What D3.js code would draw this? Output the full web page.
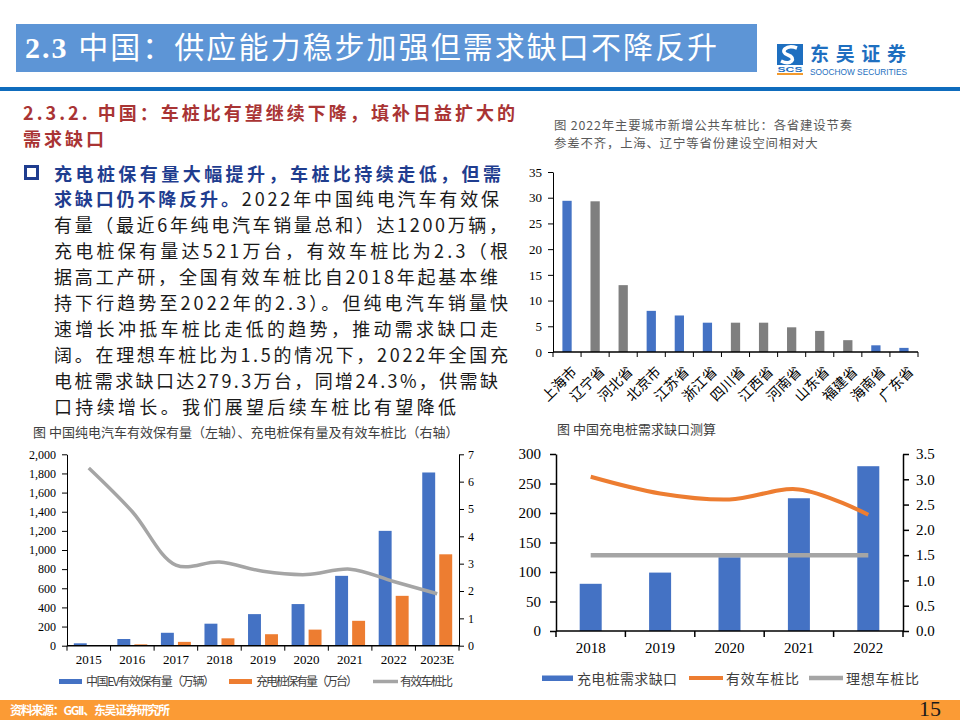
<!DOCTYPE html>
<html><head><meta charset="utf-8">
<script src="https://cdn.jsdelivr.net/npm/d3@7"></script>
<style>body{margin:0;background:#fff} svg{display:block}</style>
</head><body>
<svg id="c" width="960" height="720"></svg>
<script>
// ---------- DATA ----------
const provinces = ["上海市","辽宁省","河北省","北京市","江苏省","浙江省","四川省","江西省","河南省","山东省","福建省","海南省","广东省"];
const provinceRatio = [29.4,29.3,13.0,8.0,7.1,5.7,5.7,5.7,4.8,4.1,2.3,1.3,0.8];
const provinceBlue = [true,false,false,true,true,true,false,false,false,false,false,true,true];
const provinceTicks = [0,5,10,15,20,25,30,35];

const years1 = ["2015","2016","2017","2018","2019","2020","2021","2022","2023E"];
const evStock = [25,70,135,230,330,435,730,1200,1810];
const pileStock = [4,14,40,77,120,168,260,521,955];
const effRatio1 = [6.5,4.9,2.95,3.06,2.72,2.6,2.8,2.35,1.9];
const leftTicks1 = [0,200,400,600,800,1000,1200,1400,1600,1800,2000];
const rightTicks1 = [0,1,2,3,4,5,6,7];
const legend1 = ["中国EV有效保有量（万辆）","充电桩保有量（万台）","有效车桩比"];

const years2 = ["2018","2019","2020","2021","2022"];
const pileGap = [80,99,125,225,279.3];
const effRatio2 = [3.05,2.72,2.6,2.8,2.3];
const idealRatio2 = [1.5,1.5,1.5,1.5,1.5];
const leftTicks2 = [0,50,100,150,200,250,300];
const rightTicks2 = [0,0.5,1,1.5,2,2.5,3,3.5];
const legend2 = ["充电桩需求缺口","有效车桩比","理想车桩比"];

const headline = "中国：供应能力稳步加强但需求缺口不降反升";
const subtitle = ["2.3.2. 中国：车桩比有望继续下降，填补日益扩大的","需求缺口"];
const chartTitleTR = ["图  2022年主要城市新增公共车桩比：各省建设节奏","参差不齐，上海、辽宁等省份建设空间相对大"];
const bodyLines = [
  [["充电桩保有量大幅提升，车桩比持续走低，但需",1]],
  [["求缺口仍不降反升。",1],["2022年中国纯电汽车有效保",0]],
  [["有量（最近6年纯电汽车销量总和）达1200万辆，",0]],
  [["充电桩保有量达521万台，有效车桩比为2.3（根",0]],
  [["据高工产研，全国有效车桩比自2018年起基本维",0]],
  [["持下行趋势至2022年的2.3）。但纯电汽车销量快",0]],
  [["速增长冲抵车桩比走低的趋势，推动需求缺口走",0]],
  [["阔。在理想车桩比为1.5的情况下，2022年全国充",0]],
  [["电桩需求缺口达279.3万台，同增24.3%，供需缺",0]],
  [["口持续增长。我们展望后续车桩比有望降低",0]]
];
const bodyEnds = [501,499,507,508,498,508,498,508,498,456];

// ---------- STYLE ----------
const BLUE="#4472c4", ORANGE="#ed7d31", GRAY="#a5a5a5", DGRAY="#7f7f7f";
const SERIF="'Liberation Serif','Noto Sans CJK SC',serif";
const CJK="'Noto Sans CJK SC','Liberation Serif',sans-serif";
const svg = d3.select("#c");
svg.append("rect").attr("width",960).attr("height",720).attr("fill","#fff");

function fit(sel, target){
  const node = sel.node();
  const w = node.getComputedTextLength();
  const n = node.textContent.length;
  if(n>1) sel.attr("letter-spacing",(target-w)/(n-1));
  return sel;
}

// ---------- HEADER ----------
svg.append("rect").attr("x",16).attr("y",24).attr("width",741).attr("height",48).attr("fill","#5d95d6");
const ht = svg.append("text").attr("x",25).attr("y",58).attr("fill","#fff").attr("font-size",30);
ht.append("tspan").attr("font-family",SERIF).attr("font-weight","bold").text("2.3 ");
ht.append("tspan").attr("font-family",CJK).text(headline);
fit(ht, 692);
svg.append("rect").attr("x",0).attr("y",87).attr("width",960).attr("height",4).attr("fill","#0f6cbd");

// logo
const lg = svg.append("g");
lg.append("rect").attr("x",777).attr("y",44).attr("width",26).attr("height",21).attr("fill","#1e6fc0");
lg.append("path").attr("d","M797,48 C786,44 779,52 788,55 C797,58 791,66 781,61").attr("fill","none").attr("stroke","#fff").attr("stroke-width",3.5);
lg.append("text").attr("x",790).attr("y",72).attr("text-anchor","middle").attr("font-family","'Liberation Sans',sans-serif").attr("font-weight","bold").attr("font-size",8).attr("fill","#1e6fc0").attr("textLength",25).attr("lengthAdjust","spacingAndGlyphs").text("SCS");
lg.append("rect").attr("x",777).attr("y",73).attr("width",26).attr("height",2).attr("fill","#f39a2c");
const lt = lg.append("text").attr("x",810).attr("y",61).attr("font-family",CJK).attr("font-weight","bold").attr("font-size",19).attr("fill","#1e6fc0").text("东吴证券");
fit(lt, 96);
lg.append("text").attr("x",810).attr("y",75).attr("font-family","'Liberation Sans',sans-serif").attr("font-size",9).attr("fill","#1e6fc0").attr("textLength",97).attr("lengthAdjust","spacingAndGlyphs").text("SOOCHOW SECURITIES");

// ---------- LEFT TEXT ----------
const st1 = svg.append("text").attr("x",23).attr("y",120).attr("font-family",CJK).attr("font-weight","bold").attr("font-size",18).attr("fill","#a93434").text(subtitle[0]);
fit(st1, 492);
svg.append("text").attr("x",23).attr("y",146).attr("font-family",CJK).attr("font-weight","bold").attr("font-size",18).attr("fill","#a93434").attr("letter-spacing",st1.attr("letter-spacing")).text(subtitle[1]);

svg.append("rect").attr("x",25.5).attr("y",166.5).attr("width",12).attr("height",12).attr("fill","none").attr("stroke","#1f3d8f").attr("stroke-width",3);
bodyLines.forEach((segs,i)=>{
  const t = svg.append("text").attr("x",54).attr("y",180.5+i*25.9).attr("font-family",CJK).attr("font-size",18);
  segs.forEach(s=>{
    t.append("tspan").attr("font-weight",s[1]?"bold":"normal").attr("fill",s[1]?"#1f3d8f":"#1a1a1a").text(s[0]);
  });
  fit(t, bodyEnds[i]-54);
});

// ---------- TOP RIGHT CHART ----------
const trt = svg.append("text").attr("x",554).attr("y",130).attr("font-family",CJK).attr("font-size",12.4).attr("fill","#595959").text(chartTitleTR[0]);
fit(trt, 299);
svg.append("text").attr("x",554).attr("y",148).attr("font-family",CJK).attr("font-size",12.4).attr("fill","#595959").attr("letter-spacing",trt.attr("letter-spacing")).text(chartTitleTR[1]);
{
  const x = d3.scaleBand().domain(provinces).range([553,918]);
  const y = d3.scaleLinear().domain([0,35]).range([352,172]);
  const bw = x.bandwidth()*0.33;
  svg.append("g").selectAll("rect").data(provinces).join("rect")
    .attr("x",d=>x(d)+(x.bandwidth()-bw)/2).attr("width",bw)
    .attr("y",(d,i)=>y(provinceRatio[i])).attr("height",(d,i)=>y(0)-y(provinceRatio[i]))
    .attr("fill",(d,i)=>provinceBlue[i]?BLUE:DGRAY);
  const ya = svg.append("g").attr("transform","translate(553,0)")
    .call(d3.axisLeft(y).tickValues(provinceTicks).tickSize(5).tickSizeOuter(0).tickPadding(6).tickFormat(d3.format("d")));
  ya.selectAll("text").attr("font-family",SERIF).attr("font-size",13).attr("fill","#000");
  ya.selectAll("line,path").attr("stroke","#000");
  const xa = svg.append("g").attr("transform","translate(0,352)");
  xa.append("line").attr("x1",553).attr("x2",918).attr("stroke","#000").attr("stroke-width",1.5);
  xa.selectAll("line.t").data(provinces.concat(["_end"])).join("line").attr("class","t")
    .attr("x1",d=>d==="_end"?x.range()[1]:x(d)).attr("x2",d=>d==="_end"?x.range()[1]:x(d))
    .attr("y1",0).attr("y2",5).attr("stroke","#000");
  svg.append("g").selectAll("text").data(provinces).join("text")
    .attr("transform",d=>`translate(${x(d)+x.bandwidth()/2+10.5},${372.5}) rotate(-45)`)
    .attr("text-anchor","end")
    .attr("font-family",CJK).attr("font-size",14).attr("fill","#000").text(d=>d);
}

// ---------- BOTTOM LEFT CHART ----------
svg.append("text").attr("x",33).attr("y",437).attr("font-family",CJK).attr("font-size",13).attr("fill","#404040").text("图  中国纯电汽车有效保有量（左轴）、充电桩保有量及有效车桩比（右轴）");
{
  const x = d3.scaleBand().domain(years1).range([67,459]);
  const xi = d3.scaleBand().domain(["ev","pile"]).range([0,x.bandwidth()]).paddingInner(0.24).paddingOuter(0.4);
  const yL = d3.scaleLinear().domain([0,2000]).range([645.7,454.3]);
  const yR = d3.scaleLinear().domain([0,7]).range([645.7,454.3]);
  const g = svg.append("g");
  g.selectAll("rect.ev").data(years1).join("rect").attr("class","ev")
    .attr("x",d=>x(d)+xi("ev")).attr("width",xi.bandwidth())
    .attr("y",(d,i)=>yL(evStock[i])).attr("height",(d,i)=>yL(0)-yL(evStock[i])).attr("fill",BLUE);
  g.selectAll("rect.pile").data(years1).join("rect").attr("class","pile")
    .attr("x",d=>x(d)+xi("pile")).attr("width",xi.bandwidth())
    .attr("y",(d,i)=>yL(pileStock[i])).attr("height",(d,i)=>yL(0)-yL(pileStock[i])).attr("fill",ORANGE);
  const line = d3.line().x((d,i)=>x(years1[i])+x.bandwidth()/2).y(d=>yR(d)).curve(d3.curveCatmullRom.alpha(0.5));
  g.append("path").attr("d",line(effRatio1)).attr("fill","none").attr("stroke",GRAY).attr("stroke-width",3.5);
  const la = svg.append("g").attr("transform","translate(67,0)")
    .call(d3.axisLeft(yL).tickValues(leftTicks1).tickSize(5).tickSizeOuter(0).tickPadding(6).tickFormat(d3.format(",")));
  la.selectAll("text").attr("font-family",SERIF).attr("font-size",12).attr("fill","#000");
  la.selectAll("line,path").attr("stroke","#000");
  const ra = svg.append("g").attr("transform","translate(459,0)")
    .call(d3.axisRight(yR).tickValues(rightTicks1).tickSize(5).tickSizeOuter(0).tickPadding(4).tickFormat(d3.format("d")));
  ra.selectAll("text").attr("font-family",SERIF).attr("font-size",12).attr("fill","#000");
  ra.selectAll("line,path").attr("stroke","#000");
  const xa = svg.append("g").attr("transform","translate(0,645.7)");
  xa.append("line").attr("x1",67).attr("x2",459).attr("stroke","#000").attr("stroke-width",1.5);
  xa.selectAll("line.t").data(years1.concat(["_end"])).join("line").attr("class","t")
    .attr("x1",d=>d==="_end"?459:x(d)).attr("x2",d=>d==="_end"?459:x(d))
    .attr("y1",0).attr("y2",5).attr("stroke","#000");
  xa.selectAll("text").data(years1).join("text").attr("x",d=>x(d)+x.bandwidth()/2).attr("y",18)
    .attr("text-anchor","middle").attr("font-family",SERIF).attr("font-size",13).attr("fill","#000").text(d=>d);
  // legend
  const lgd = svg.append("g").attr("font-family",CJK).attr("font-size",12).attr("fill","#404040");
  lgd.append("rect").attr("x",59).attr("y",679).attr("width",23).attr("height",5).attr("fill",BLUE);
  fit(lgd.append("text").attr("x",86).attr("y",686).text(legend1[0]),129);
  lgd.append("rect").attr("x",229).attr("y",679).attr("width",23).attr("height",5).attr("fill",ORANGE);
  fit(lgd.append("text").attr("x",256).attr("y",686).text(legend1[1]),102);
  lgd.append("line").attr("x1",373).attr("x2",398).attr("y1",681.5).attr("y2",681.5).attr("stroke",GRAY).attr("stroke-width",3.5);
  fit(lgd.append("text").attr("x",400).attr("y",686).text(legend1[2]),53);
}

// ---------- BOTTOM RIGHT CHART ----------
svg.append("text").attr("x",557).attr("y",434).attr("font-family",CJK).attr("font-size",13).attr("fill","#404040").text("图  中国充电桩需求缺口测算");
{
  const x = d3.scaleBand().domain(years2).range([556,903]);
  const yL = d3.scaleLinear().domain([0,300]).range([631,454]);
  const yR = d3.scaleLinear().domain([0,3.5]).range([631,454]);
  const bw = x.bandwidth()*0.317;
  const g = svg.append("g");
  g.selectAll("rect").data(years2).join("rect")
    .attr("x",d=>x(d)+(x.bandwidth()-bw)/2).attr("width",bw)
    .attr("y",(d,i)=>yL(pileGap[i])).attr("height",(d,i)=>yL(0)-yL(pileGap[i])).attr("fill",BLUE);
  const line = d3.line().x((d,i)=>x(years2[i])+x.bandwidth()/2).y(d=>yR(d)).curve(d3.curveCatmullRom.alpha(0.5));
  g.append("path").attr("d",line(idealRatio2)).attr("fill","none").attr("stroke",GRAY).attr("stroke-width",4.5);
  g.append("path").attr("d",line(effRatio2)).attr("fill","none").attr("stroke",ORANGE).attr("stroke-width",4);
  const la = svg.append("g").attr("transform","translate(556,0)")
    .call(d3.axisLeft(yL).tickValues(leftTicks2).tickSize(6).tickSizeOuter(0).tickPadding(9).tickFormat(d3.format("d")));
  la.selectAll("text").attr("font-family",SERIF).attr("font-size",15).attr("fill","#000");
  la.selectAll("line,path").attr("stroke","#000").attr("stroke-width",1.5);
  const ra = svg.append("g").attr("transform","translate(903,0)")
    .call(d3.axisRight(yR).tickValues(rightTicks2).tickSize(6).tickSizeOuter(0).tickPadding(7).tickFormat(d3.format(".1f")));
  ra.selectAll("text").attr("font-family",SERIF).attr("font-size",15).attr("fill","#000");
  ra.selectAll("line,path").attr("stroke","#000").attr("stroke-width",1.5);
  const xa = svg.append("g").attr("transform","translate(0,631)");
  xa.append("line").attr("x1",556).attr("x2",903).attr("stroke","#000").attr("stroke-width",1.5);
  xa.selectAll("line.t").data(years2.concat(["_end"])).join("line").attr("class","t")
    .attr("x1",d=>d==="_end"?903:x(d)).attr("x2",d=>d==="_end"?903:x(d))
    .attr("y1",0).attr("y2",6).attr("stroke","#000").attr("stroke-width",1.5);
  xa.selectAll("text").data(years2).join("text").attr("x",d=>x(d)+x.bandwidth()/2).attr("y",22)
    .attr("text-anchor","middle").attr("font-family",SERIF).attr("font-size",15).attr("fill","#000").text(d=>d);
  const lgd = svg.append("g").attr("font-family",CJK).attr("font-size",14).attr("fill","#404040");
  lgd.append("rect").attr("x",542).attr("y",675.5).attr("width",31).attr("height",5.5).attr("fill",BLUE);
  fit(lgd.append("text").attr("x",577).attr("y",683.5).text(legend2[0]),100);
  lgd.append("line").attr("x1",689).attr("x2",723).attr("y1",678).attr("y2",678).attr("stroke",ORANGE).attr("stroke-width",4);
  fit(lgd.append("text").attr("x",726).attr("y",683.5).text(legend2[1]),73);
  lgd.append("line").attr("x1",809).attr("x2",843).attr("y1",678).attr("y2",678).attr("stroke",GRAY).attr("stroke-width",4.5);
  fit(lgd.append("text").attr("x",846).attr("y",683.5).text(legend2[2]),73);
}

// ---------- FOOTER ----------
svg.append("rect").attr("x",0).attr("y",700).attr("width",960).attr("height",20).attr("fill","#fb9b35");
const ft = svg.append("text").attr("x",10).attr("y",715).attr("font-family",CJK).attr("font-weight","bold").attr("font-size",12).attr("fill","#fff").text("资料来源：GGII、东吴证券研究所");
fit(ft,160);
svg.append("text").attr("x",941).attr("y",716).attr("text-anchor","end").attr("font-family",SERIF).attr("font-size",22).attr("fill","#1a1a1a").text("15");
</script>
</body></html>
